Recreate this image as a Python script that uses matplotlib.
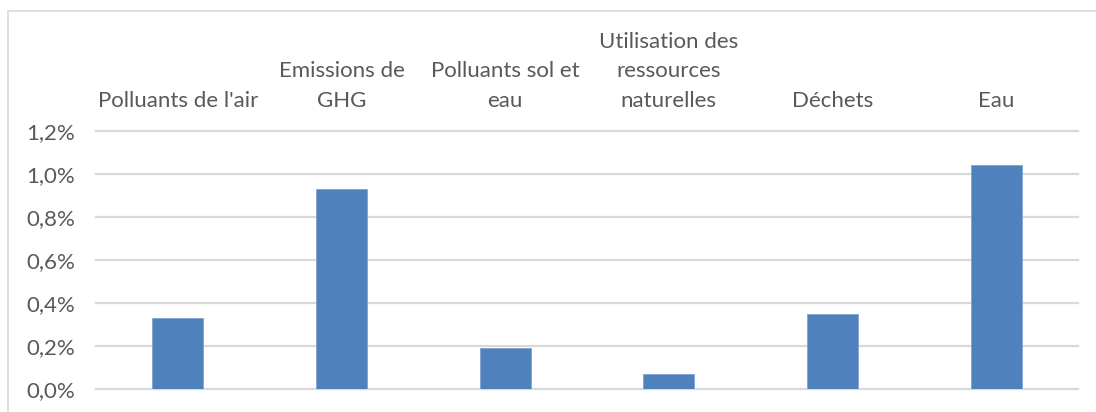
import matplotlib
matplotlib.use("Agg")
import matplotlib.pyplot as plt
from matplotlib.patches import Rectangle
from matplotlib.ticker import FuncFormatter

categories = ["Polluants de l'air", "Emissions de\nGHG", "Polluants sol et\neau",
              "Utilisation des\nressources\nnaturelles", "Déchets", "Eau"]
values = [0.0033, 0.0093, 0.0019, 0.0007, 0.0035, 0.0104]
yticks = [0.0, 0.002, 0.004, 0.006, 0.008, 0.010, 0.012]

plt.rcParams['font.family'] = ['Lato', 'DejaVu Sans']
text_color = '#595959'
bar_color = '#4F81BD'
grid_color = '#D9D9D9'

fig = plt.figure(figsize=(10.96, 4.12), dpi=100)
W, H = 1096, 412
ax = fig.add_axes([96 / W, 1 - 389 / H, (1078 - 96) / W, (389 - 131) / H])

x = list(range(len(categories)))
ax.bar(x, values, width=0.31, color=bar_color, edgecolor='#7FA3D3', linewidth=0.6, zorder=3)

ax.set_xlim(-0.5, len(categories) - 0.5)
ax.set_ylim(0, 0.012)
ax.set_yticks(yticks)
ax.yaxis.set_major_formatter(FuncFormatter(lambda v, p: f"{v*100:.1f}%".replace('.', ',')))
ax.grid(axis='y', color=grid_color, linewidth=1.6, zorder=0)
for gl in ax.get_ygridlines():
    gl.set_clip_on(False)
ax.set_axisbelow(True)

ax.xaxis.tick_top()
ax.set_xticks(x)
ax.set_xticklabels(categories, linespacing=1.6)
ax.tick_params(axis='x', length=0, pad=14.5, labelsize=16, labelcolor=text_color)
ax.tick_params(axis='y', length=0, pad=15, labelsize=16, labelcolor=text_color)
for s in ax.spines.values():
    s.set_visible(False)

fig.patches.append(Rectangle((8 / W, -0.1), 1.2, (1 - 11 / H) + 0.1, transform=fig.transFigure,
                             fill=False, edgecolor='#D9D9D9', linewidth=1.2))

fig.savefig("out.png", dpi=100)
